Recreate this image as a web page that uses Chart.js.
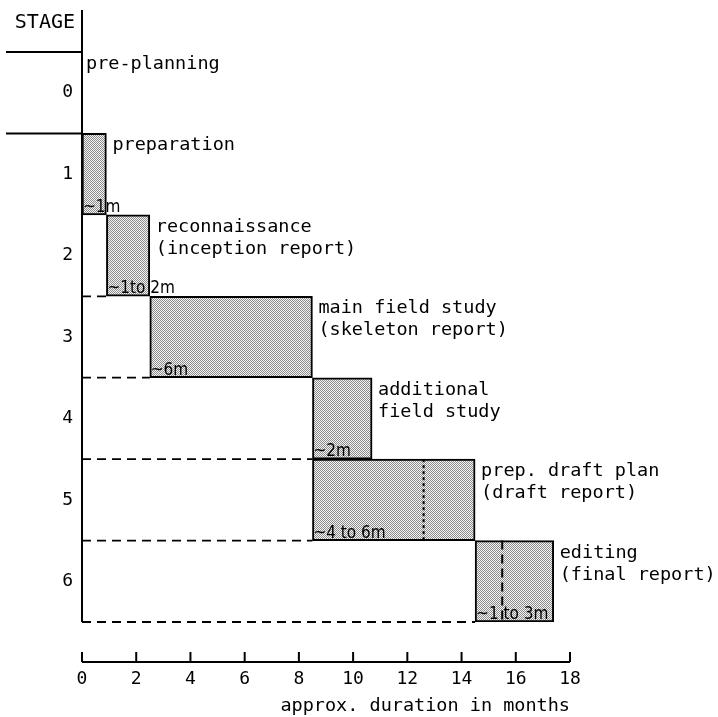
<!DOCTYPE html>
<html lang="en">
<head>
    <meta charset="UTF-8">
    <title>Planning stages</title>
    <script src="https://cdn.jsdelivr.net/npm/chart.js"></script>
    <style>
        body {
            margin: 0;
            background: white;
            overflow: hidden;
        }
    </style>
</head>
<body>
    <canvas id="stageChart" width="718" height="717"></canvas>

    <script>
        // data
        const stages = ['0', '1', '2', '3', '4', '5', '6'];
        const stageNames = [
            ['pre-planning'],
            ['preparation'],
            ['reconnaissance', '(inception report)'],
            ['main field study', '(skeleton report)'],
            ['additional', 'field study'],
            ['prep. draft plan', '(draft report)'],
            ['editing', '(final report)']
        ];
        const startMonths = [null, 0, 0.9, 2.5, 8.5, 8.5, 14.5];
        const endMonths = [null, 0.9, 2.5, 8.5, 10.7, 14.5, 17.4];
        const splitMonths = [null, null, null, null, null, 12.6, 15.5];
        const durations = ['', '~1m', '~1to 2m', '~6m', '~2m', '~4 to 6m', '~1 to 3m'];
        const monthTicks = [0, 2, 4, 6, 8, 10, 12, 14, 16, 18];

        const MONO = '"DejaVu Sans Mono", monospace';
        const SMALL = '"DejaVu Sans Condensed", "DejaVu Sans", sans-serif';

        // stippled fill like the printed screen
        function stipple() {
            const c = document.createElement('canvas');
            c.width = 2; c.height = 2;
            const g = c.getContext('2d');
            g.fillStyle = '#f4f4f4';
            g.fillRect(0, 0, 2, 2);
            g.fillStyle = '#8c8c8c';
            g.fillRect(0, 0, 1, 1);
            g.fillRect(1, 1, 1, 1);
            return g.createPattern(c, 'repeat');
        }

        const bars = stages.map((s, i) => startMonths[i] === null ? null : [startMonths[i], endMonths[i]]);

        const stagePlugin = {
            id: 'stagePlugin',
            afterDatasetsDraw(chart) {
                const ctx = chart.ctx;
                const x = chart.scales.x;
                const y = chart.scales.y;
                const half = (y.getPixelForValue(1) - y.getPixelForValue(0)) / 2;
                const x0 = x.getPixelForValue(0);
                ctx.save();
                ctx.strokeStyle = '#000';
                ctx.fillStyle = '#000';

                stages.forEach((s, i) => {
                    const top = y.getPixelForValue(i) - half;
                    const bottom = y.getPixelForValue(i) + half;

                    // dashed boundary from axis to bar start
                    if (i >= 2) {
                        ctx.setLineDash([9, 6]);
                        ctx.lineWidth = 1.8;
                        ctx.beginPath();
                        ctx.moveTo(x0, bottom);
                        ctx.lineTo(x.getPixelForValue(startMonths[i]), bottom);
                        ctx.stroke();
                    }

                    // divider inside bar
                    if (splitMonths[i] !== null) {
                        const sx = x.getPixelForValue(splitMonths[i]);
                        ctx.setLineDash(i === 5 ? [3, 3] : [9, 5]);
                        ctx.lineWidth = 2;
                        ctx.beginPath();
                        ctx.moveTo(sx, top);
                        ctx.lineTo(sx, bottom);
                        ctx.stroke();
                    }
                    ctx.setLineDash([]);

                    // stage names
                    ctx.font = '18.5px ' + MONO;
                    ctx.textAlign = 'left';
                    ctx.textBaseline = 'top';
                    const lx = endMonths[i] === null ? x0 + 4 : x.getPixelForValue(endMonths[i]) + 6;
                    stageNames[i].forEach((line, k) => {
                        ctx.fillText(line, lx, top + 3 + k * 22);
                    });

                    // durations
                    if (durations[i]) {
                        ctx.font = '17px ' + SMALL;
                        ctx.textBaseline = 'alphabetic';
                        ctx.fillText(durations[i], x.getPixelForValue(startMonths[i]) + 1, bottom - 3);
                    }
                });
                ctx.restore();
            },
            afterDraw(chart) {
                const ctx = chart.ctx;
                const x = chart.scales.x;
                const y = chart.scales.y;
                const half = (y.getPixelForValue(1) - y.getPixelForValue(0)) / 2;
                const x0 = x.getPixelForValue(0);
                const area = chart.chartArea;
                ctx.save();
                ctx.strokeStyle = '#000';
                ctx.lineWidth = 2;

                // vertical stage axis
                ctx.beginPath();
                ctx.moveTo(x0, 10);
                ctx.lineTo(x0, area.bottom);
                ctx.stroke();

                // top rules reaching left of the axis
                [0, 1].forEach(i => {
                    const top = y.getPixelForValue(i) - half;
                    ctx.beginPath();
                    ctx.moveTo(6, top);
                    ctx.lineTo(x0, top);
                    ctx.stroke();
                });

                // STAGE heading
                ctx.fillStyle = '#000';
                ctx.font = '20px ' + MONO;
                ctx.textAlign = 'right';
                ctx.textBaseline = 'middle';
                ctx.fillText('STAGE', x0 - 7, 23);

                // month axis with upward ticks
                const ay = area.bottom + 40;
                ctx.beginPath();
                ctx.moveTo(x0, ay);
                ctx.lineTo(x.getPixelForValue(18), ay);
                ctx.stroke();
                monthTicks.forEach(m => {
                    const tx = x.getPixelForValue(m);
                    ctx.beginPath();
                    ctx.moveTo(tx, ay);
                    ctx.lineTo(tx, ay - 10);
                    ctx.stroke();
                });
                ctx.restore();
            }
        };

        new Chart(document.getElementById('stageChart').getContext('2d'), {
            type: 'bar',
            data: {
                labels: stages,
                datasets: [{
                    data: bars,
                    backgroundColor: stipple(),
                    borderColor: '#000',
                    borderWidth: 2,
                    borderSkipped: false,
                    barPercentage: 1,
                    categoryPercentage: 1
                }]
            },
            options: {
                indexAxis: 'y',
                responsive: false,
                animation: false,
                layout: { padding: { top: 52, right: 148, left: 0, bottom: 0 } },
                plugins: {
                    legend: { display: false },
                    tooltip: { enabled: false }
                },
                scales: {
                    x: {
                        type: 'linear',
                        min: 0,
                        max: 18,
                        afterFit: s => { s.height = 95; },
                        afterBuildTicks: s => { s.ticks = monthTicks.map(v => ({ value: v })); },
                        grid: { display: false, drawTicks: false },
                        border: { display: false },
                        ticks: {
                            color: '#000',
                            padding: 47,
                            font: { family: MONO, size: 18 }
                        },
                        title: {
                            display: true,
                            text: 'approx. duration in months',
                            align: 'end',
                            color: '#000',
                            font: { family: MONO, size: 18.5 },
                            padding: { top: 0, bottom: 0 }
                        }
                    },
                    y: {
                        afterFit: s => { s.width = 82; },
                        grid: { display: false, drawTicks: false },
                        border: { display: false },
                        ticks: {
                            color: '#000',
                            padding: 9,
                            font: { family: MONO, size: 18 }
                        }
                    }
                }
            },
            plugins: [stagePlugin]
        });
    </script>
</body>
</html>
